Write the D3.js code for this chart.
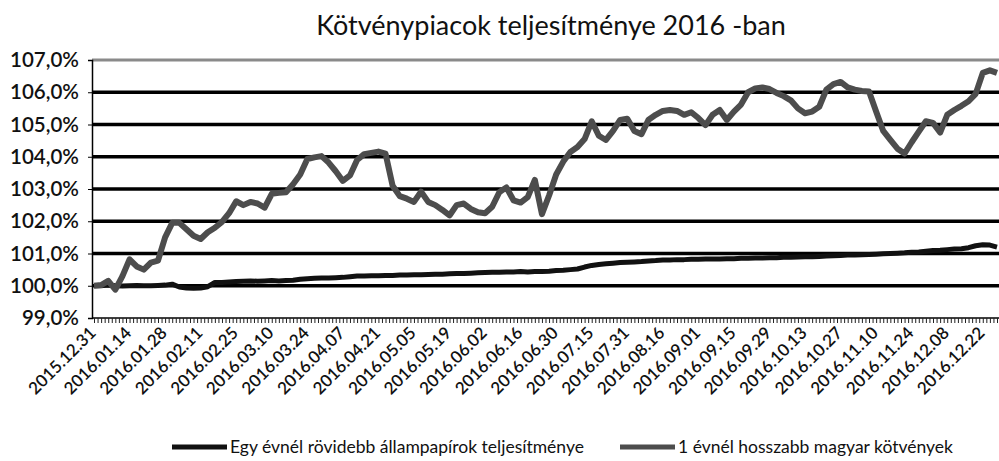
<!DOCTYPE html>
<html><head><meta charset="utf-8">
<script src="https://cdn.jsdelivr.net/npm/d3@7"></script>
<style>body{margin:0;background:#fff}svg{display:block}text{font-family:Lato,"Open Sans",sans-serif;fill:#111}</style>
</head><body><svg id="c" width="999" height="461"></svg>
<script>
const title = "Kötvénypiacok teljesítménye 2016 -ban";
const tickLabels = ["2015.12.31","2016.01.14","2016.01.28","2016.02.11","2016.02.25","2016.03.10","2016.03.24","2016.04.07","2016.04.21","2016.05.05","2016.05.19","2016.06.02","2016.06.16","2016.06.30","2016.07.15","2016.07.31","2016.08.16","2016.09.01","2016.09.15","2016.09.29","2016.10.13","2016.10.27","2016.11.10","2016.11.24","2016.12.08","2016.12.22"];
const labelEvery = 5;
const yTicks = [99,100,101,102,103,104,105,106,107];
const seriesNames = ["Egy évnél rövidebb állampapírok teljesítménye","1 évnél hosszabb magyar kötvények"];
// Long bonds (upper line), one value per two trading days
const longBonds = [100.00,100.02,100.15,99.88,100.30,100.82,100.60,100.50,100.72,100.78,
101.50,101.95,101.95,101.75,101.55,101.45,101.66,101.80,101.98,102.25,
102.62,102.50,102.60,102.55,102.42,102.85,102.88,102.90,103.15,103.45,
103.93,103.98,104.02,103.82,103.55,103.25,103.42,103.90,104.08,104.12,
104.16,104.10,103.10,102.78,102.70,102.60,102.92,102.60,102.50,102.35,
102.18,102.50,102.55,102.38,102.28,102.25,102.45,102.90,103.05,102.65,
102.58,102.75,103.28,102.22,102.80,103.45,103.85,104.15,104.30,104.55,
105.10,104.65,104.52,104.80,105.14,105.18,104.80,104.70,105.15,105.30,
105.42,105.45,105.42,105.30,105.38,105.20,104.98,105.30,105.45,105.14,
105.40,105.62,106.00,106.12,106.15,106.10,105.98,105.88,105.75,105.50,
105.35,105.40,105.55,106.08,106.25,106.32,106.15,106.08,106.04,106.02,
105.40,104.80,104.52,104.25,104.10,104.45,104.78,105.10,105.05,104.75,
105.30,105.45,105.58,105.72,105.95,106.60,106.68,106.60];
// Short T-bills (lower line)
const shortBills = [100.00,100.00,100.02,100.00,99.99,100.00,100.01,100.00,100.00,100.01,
100.02,100.05,99.96,99.93,99.92,99.93,99.97,100.10,100.10,100.12,
100.13,100.14,100.15,100.14,100.15,100.16,100.15,100.16,100.17,100.20,
100.22,100.23,100.24,100.24,100.25,100.26,100.28,100.30,100.30,100.31,
100.31,100.32,100.32,100.33,100.33,100.34,100.34,100.35,100.36,100.36,
100.37,100.38,100.38,100.39,100.40,100.41,100.42,100.42,100.43,100.43,
100.44,100.43,100.44,100.44,100.45,100.47,100.48,100.50,100.52,100.58,
100.63,100.66,100.68,100.70,100.72,100.73,100.74,100.75,100.77,100.78,
100.80,100.80,100.81,100.81,100.82,100.82,100.83,100.83,100.83,100.84,
100.84,100.85,100.85,100.86,100.86,100.87,100.87,100.88,100.88,100.89,
100.90,100.90,100.91,100.92,100.93,100.94,100.95,100.95,100.96,100.97,
100.98,100.99,101.00,101.01,101.02,101.04,101.05,101.07,101.09,101.10,
101.12,101.14,101.15,101.18,101.24,101.27,101.26,101.20];

const svg = d3.select("#c");
const N = longBonds.length;
const pL = 92, pR = 999, pT = 60, pB = 318;
const x = d3.scaleLinear().domain([0, N-1]).range([94, 997]);
const y = d3.scaleLinear().domain([99,107]).range([pB, pT]);

svg.append("text").attr("x", 551).attr("y", 35).attr("text-anchor","middle")
  .style("font-size","27px").text(title);

// gridlines
svg.append("g").selectAll("line").data(yTicks.filter(d=>d>99)).join("line")
  .attr("x1", pL).attr("x2", pR).attr("y1", d=>y(d)).attr("y2", d=>y(d))
  .attr("stroke", d=> d===107 ? "#8a8a8a" : "#000").attr("stroke-width", d=> d===107 ? 3 : 3.5);

// y axis
const yAxis = d3.axisLeft(y).tickValues(yTicks).tickSize(4)
  .tickFormat(d => d3.format(".1f")(d).replace(".", ",") + "%");
const ya = svg.append("g").attr("transform",`translate(${pL},0)`).call(yAxis);
ya.select(".domain").attr("stroke","#000").attr("stroke-width",1.5);
ya.selectAll(".tick line").attr("stroke","#000");
ya.selectAll("text").style("font-size","20.5px").style("font-weight","600").attr("x",-13).attr("fill","#111");

// x axis: tick marks per category
const xa = svg.append("g").attr("transform",`translate(0,${pB})`)
  .call(d3.axisBottom(x).tickValues(d3.range(0, N-0.5+0.01, 0.5)).tickSize(5).tickFormat(""));
xa.select(".domain").attr("stroke","#000").attr("stroke-width",1.5).attr("d",`M${pL},0H${pR}`);
xa.selectAll(".tick line").attr("stroke","#222").attr("stroke-width",1);

svg.append("g").selectAll("text").data(tickLabels).join("text")
  .attr("transform",(d,i)=>`translate(${x(i*labelEvery)+3},334) rotate(-45)`)
  .attr("text-anchor","end").style("font-size","17px").style("font-weight","600").text(d=>d);

// lines
const line = d3.line().x((d,i)=>x(i)).y(d=>y(d));
svg.append("path").datum(shortBills).attr("d",line).attr("fill","none")
  .attr("stroke","#111").attr("stroke-width",5).attr("stroke-linejoin","round");
svg.append("path").datum(longBonds).attr("d",line).attr("fill","none")
  .attr("stroke","#4d4d4d").attr("stroke-width",6).attr("stroke-linejoin","round");

// legend
const leg = [{x:172, c:"#111"},{x:620, c:"#4d4d4d"}];
leg.forEach((l,i)=>{
  svg.append("line").attr("x1",l.x).attr("x2",l.x+55).attr("y1",447).attr("y2",447)
    .attr("stroke",l.c).attr("stroke-width",5);
  svg.append("text").attr("x",l.x+58).attr("y",453).style("font-size","17.5px").text(seriesNames[i]);
});
</script></body></html>
